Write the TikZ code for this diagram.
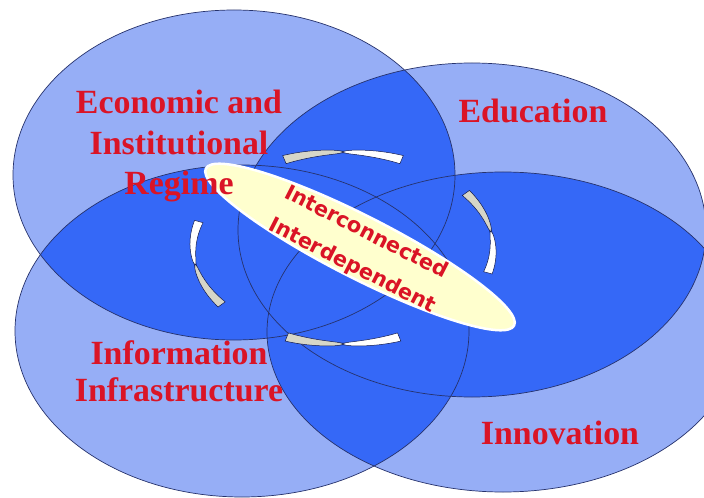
\documentclass[tikz,border=0pt]{standalone}
\usepackage{fontspec}
\setmainfont{Liberation Serif}
\newfontfamily\coresans{DejaVu Sans}
\usetikzlibrary{shapes.geometric}

\definecolor{lightset}{RGB}{150,174,246}
\definecolor{darkset}{RGB}{53,104,247}
\definecolor{setline}{RGB}{38,50,108}
\definecolor{twistline}{RGB}{16,26,80}
\definecolor{labelred}{RGB}{218,20,38}
\definecolor{coreyellow}{RGB}{255,255,206}
\definecolor{ribbonshade}{RGB}{214,214,200}

\newcommand\twistpiece[4]{%
  \filldraw[ribbon, fill=#4]
    plot[domain=#1:#2, samples=16] ({343+(150+0.4+(#3-0.4)*sqrt(abs((\x-(#2))/((#1)-(#2)))))*cos(\x)}, {248-(96+0.4+(#3-0.4)*sqrt(abs((\x-(#2))/((#1)-(#2)))))*sin(\x)})
    -- plot[domain=#2:#1, samples=16] ({343+(150-0.4-(#3-0.4)*sqrt(abs((\x-(#2))/((#1)-(#2)))))*cos(\x)}, {248-(96-0.4-(#3-0.4)*sqrt(abs((\x-(#2))/((#1)-(#2)))))*sin(\x)})
    -- cycle;}
\newcommand\twistarrow[5]{%
  \draw[twistline, line width=2.4bp] plot[domain=#4:#5, samples=5] ({343+150*cos(\x)}, {248-96*sin(\x)});
  \twistpiece{#1}{#2}{4.4}{ribbonshade}
  \twistpiece{#3}{#2}{4.4}{white}}

\begin{document}
\begin{tikzpicture}[x=1bp, y=-1bp,
  setedge/.style={draw=setline, line width=0.7bp},
  setlabel/.style={text=labelred, font=\fontsize{34}{41}\selectfont\bfseries, align=center, inner sep=0pt},
  core/.style={ellipse, fill=coreyellow, draw=white, line width=2.5bp, inner sep=0pt},
  coretext/.style={text=labelred, font=\coresans\fontsize{21}{24}\selectfont\bfseries, inner sep=0pt},
  ribbon/.style={draw=twistline, line width=0.5bp}]
  \useasboundingbox (0,0) rectangle (704,498);
  \fill[white] (0,0) rectangle (704,498);
  \begin{scope}
    \clip (0,0) rectangle (704,498);
    \coordinate (econ) at (234,175);
    \coordinate (edu) at (472,230);
    \coordinate (info) at (242,331);
    \coordinate (innov) at (503,332);
    \foreach \nm/\rx/\ry in {econ/221/165, edu/234/167, info/227/166, innov/236/160}
      \fill[lightset] (\nm) ellipse [x radius=\rx, y radius=\ry];
    \foreach \ca/\xa/\ya/\cb/\xb/\yb in {econ/221/165/edu/234/167, econ/221/165/info/227/166,
        econ/221/165/innov/236/160, edu/234/167/info/227/166, edu/234/167/innov/236/160,
        info/227/166/innov/236/160}
      {\begin{scope}
         \clip (\ca) ellipse [x radius=\xa, y radius=\ya];
         \fill[darkset] (\cb) ellipse [x radius=\xb, y radius=\yb];
       \end{scope}}
    \foreach \nm/\rx/\ry in {econ/221/165, edu/234/167, info/227/166, innov/236/160}
      \draw[setedge] (\nm) ellipse [x radius=\rx, y radius=\ry];
  \end{scope}

  \node[core, rotate=-27, minimum width=346bp, minimum height=62bp] (core) at (360,247) {};
  \node[coretext, rotate=-27] (iconn) at (367,231) {Interconnected};
  \node[coretext, rotate=-27] (idep) at (352,266) {Interdependent};

  \twistarrow{113}{90}{67}{86}{94}
  \twistarrow{35}{10}{-15}{6}{14}
  \twistarrow{248}{270}{292}{266}{274}
  \twistarrow{216}{190}{164}{186}{194}

  \node[setlabel] (econlbl) at (179,146) {Economic and\\Institutional\\Regime};
  \node[setlabel, anchor=base] (edulbl) at (533,123) {Education};
  \node[setlabel, font=\fontsize{34}{37}\selectfont\bfseries] (infolbl) at (179,371) {Information\\Infrastructure};
  \node[setlabel, anchor=base] (innovlbl) at (560,444) {Innovation};
\end{tikzpicture}
\end{document}
